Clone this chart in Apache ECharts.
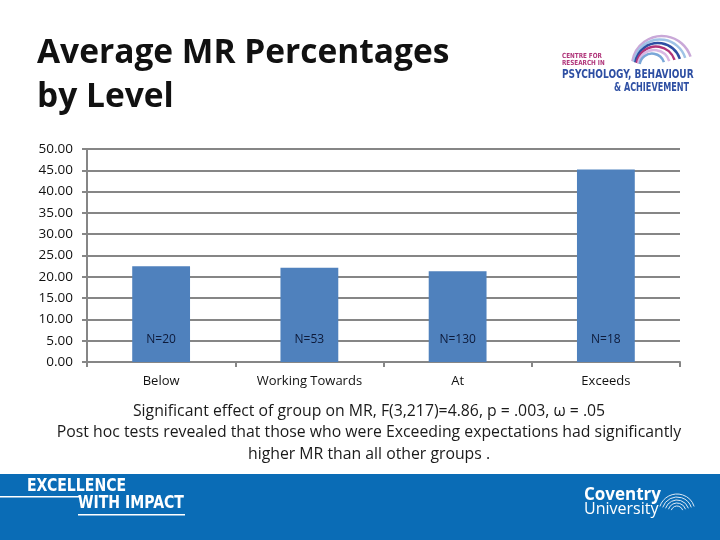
<!DOCTYPE html>
<html>
<head>
<meta charset="utf-8">
<script src="https://cdn.jsdelivr.net/npm/echarts@6/dist/echarts.min.js"></script>
<style>html,body{margin:0;padding:0;background:#fff;}#c{width:720px;height:540px;}</style>
</head>
<body>
<div id="c"></div>
<script>
const categories = ['Below', 'Working Towards', 'At', 'Exceeds'];
const values = [22.5, 22.1, 21.3, 45.2];
const nLabels = ['N=20', 'N=53', 'N=130', 'N=18'];
const yTicks = { min: 0, max: 50, interval: 5 };
const notes = [
  'Significant effect of group on MR, F(3,217)=4.86, p = .003, \u03c9 = .05',
  'Post hoc tests revealed that those who were Exceeding expectations had significantly',
  'higher MR than all other groups .'
];

const chart = echarts.init(document.getElementById('c'));
const F = '"Open Sans", Lato, sans-serif';
const C = '"DejaVu Sans Condensed", "DejaVu Sans", sans-serif';
const arcColors = ['#c9a8d8', '#9fc3e6', '#2e4fa3', '#b0357a', '#d9b8e3', '#7aa7d8'];
const arcs = arcColors.map((col, i) => ({
  type: 'arc',
  shape: { cx: 662 - i * 2, cy: 66, r: 30 - i * 3.5, startAngle: Math.PI * 1.05, endAngle: Math.PI * 1.9 },
  style: { stroke: col, lineWidth: 2.5, fill: null }
}));

chart.setOption({
  backgroundColor: '#ffffff',
  animation: false,
  grid: { left: 87, right: 40, top: 149, height: 213 },
  xAxis: {
    type: 'category',
    data: categories,
    axisLine: { lineStyle: { color: '#868686', width: 2 } },
    axisTick: { show: true, length: 5, lineStyle: { color: '#868686', width: 2 } },
    axisLabel: { color: '#111', fontSize: 13, fontFamily: F, margin: 13 }
  },
  yAxis: {
    type: 'value',
    min: yTicks.min, max: yTicks.max, interval: yTicks.interval,
    axisLine: { show: true, lineStyle: { color: '#868686', width: 2 } },
    axisTick: { show: true, length: 5, lineStyle: { color: '#868686', width: 2 } },
    splitLine: { lineStyle: { color: '#868686', width: 2 } },
    axisLabel: { color: '#111', fontSize: 13.5, fontFamily: F, margin: 14,
      formatter: v => v.toFixed(2) }
  },
  series: [{
    type: 'bar',
    data: values,
    barWidth: '39%',
    itemStyle: { color: '#4f81bd' },
    label: {
      show: true, position: 'insideBottom', distance: 16,
      formatter: p => nLabels[p.dataIndex],
      color: '#0d1a3a', fontSize: 12, fontFamily: F
    }
  }],
  graphic: [
    { type: 'text', left: 37, top: 36, style: { text: 'Average MR Percentages', font: 'bold 33.5px ' + F, fill: '#111' } },
    { type: 'text', left: 37, top: 80, style: { text: 'by Level', font: 'bold 33.5px ' + F, fill: '#111' } },
    ...notes.map((t, i) => ({
      type: 'text', x: 369, y: 411 + i * 21.5,
      style: { text: t, font: '15.8px ' + F, fill: '#1a1a1a', textAlign: 'center', textVerticalAlign: 'middle' }
    })),
    ...arcs,
    { type: 'text', x: 562, y: 53, scaleX: 0.9, style: { text: 'CENTRE FOR\nRESEARCH IN', font: 'bold 7px ' + C, fill: '#b0357a', lineHeight: 7 } },
    { type: 'text', x: 562, y: 68, scaleX: 0.8, style: { text: 'PSYCHOLOGY, BEHAVIOUR', font: 'bold 12.5px ' + C, fill: '#2e4fa3' } },
    { type: 'text', x: 614, y: 82, scaleX: 0.75, style: { text: '& ACHIEVEMENT', font: 'bold 12px ' + C, fill: '#2e4fa3' } },
    { type: 'rect', shape: { x: 0, y: 474, width: 720, height: 66 }, style: { fill: '#0a6cb6' } },
    { type: 'text', x: 27, y: 478, scaleX: 0.92, style: { text: 'EXCELLENCE', font: 'bold 17px ' + C, fill: '#fff' } },
    { type: 'rect', shape: { x: 0, y: 496, width: 80, height: 1.5 }, style: { fill: '#fff' } },
    { type: 'text', x: 78, y: 495, scaleX: 0.92, style: { text: 'WITH IMPACT', font: 'bold 17px ' + C, fill: '#fff' } },
    { type: 'rect', shape: { x: 78, y: 514, width: 107, height: 1.5 }, style: { fill: '#fff' } },
    { type: 'text', x: 584, y: 487, style: { text: 'Coventry', font: 'bold 17px ' + F, fill: '#fff' } },
    { type: 'text', x: 584, y: 501, style: { text: 'University', font: '16px ' + F, fill: '#fff' } },
    ...[0,1,2,3,4].map(i => ({
      type: 'arc', shape: { cx: 677, cy: 512, r: 6 + i * 3, startAngle: Math.PI * 1.1, endAngle: Math.PI * 1.9 },
      style: { stroke: '#dfeaf5', lineWidth: 1, fill: null }
    }))
  ]
});
</script>
</body>
</html>
